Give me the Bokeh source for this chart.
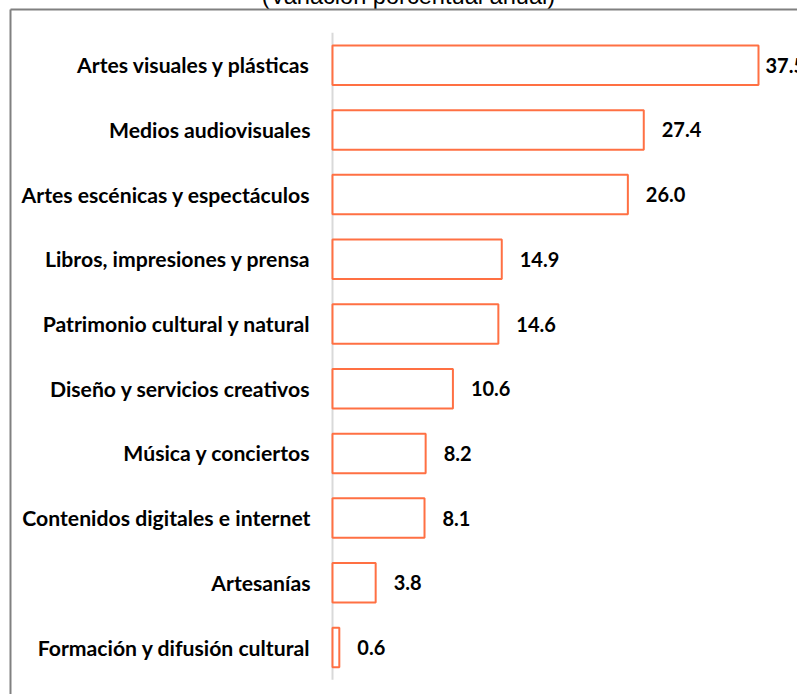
from bokeh.plotting import figure
from bokeh.models import ColumnDataSource, Range1d
from bokeh.core.properties import value
from bokeh.embed import file_html
from bokeh.resources import INLINE
import math

# ---- data ----
categories = [
    "Artes visuales y plásticas",
    "Medios audiovisuales",
    "Artes escénicas y espectáculos",
    "Libros, impresiones y prensa",
    "Patrimonio cultural y natural",
    "Diseño y servicios creativos",
    "Música y conciertos",
    "Contenidos digitales e internet",
    "Artesanías",
    "Formación y difusión cultural",
]
values = [37.5, 27.4, 26.0, 14.9, 14.6, 10.6, 8.2, 8.1, 3.8, 0.6]
title_text = "(Variación porcentual anual)"

# ---- layout (pixels) ----
W, H = 789, 708
PX_PER_UNIT = 11.36
ZERO_PX = 324.0
BAND_PX = 64.7
FIRST_CENTER_PX = 78.7

def dx(px):
    return (px - ZERO_PX) / PX_PER_UNIT

def dy(px):
    return (px - FIRST_CENTER_PX) / BAND_PX

n = len(categories)
idx = list(range(n))
vmax = max(values)
src = ColumnDataSource(dict(
    y=idx,
    v=values,
    cat=categories,
    lbl=[f"{v:.1f}" for v in values],
    off=[7 if v == vmax else 18 for v in values],
))

p = figure(width=W, height=H, output_backend="svg", toolbar_location=None,
           x_axis_type=None, y_axis_type=None,
           x_range=Range1d(dx(0), dx(W)), y_range=Range1d(dy(H), dy(0)),
           min_border=0, outline_line_color=None, background_fill_color="white",
           border_fill_color="white")
p.grid.visible = False
p.styles = {"margin-top": "-14px", "margin-left": "8px"}

# title (cut off at top)
p.text(x=[dx(400)], y=[dy(9.5)], text=[title_text], text_align="center",
       text_baseline="alphabetic", text_font=value("Liberation Sans"),
       text_font_size="23.6px", text_color="#000000")

# outer frame (left and top edges)
p.ray(x=[dx(2), dx(2)], y=[dy(23), dy(23)], length=0, angle=[0, -math.pi / 2],
      line_color="#808080", line_width=2)

# axis line
p.segment(x0=[0], y0=[-0.5], x1=[0], y1=[n - 0.5], line_color="#d9d9d9", line_width=2)

# bars
p.hbar(y="y", left=0, right="v", height=0.61, source=src,
       fill_color="white", line_color="#FF7043", line_width=2)

# category labels
p.text(x=0, y="y", text="cat", source=src, x_offset=-22, text_align="right",
       text_baseline="middle", text_font=value("Lato"), text_font_style="bold",
       text_font_size="21.2px", text_color="#000000")

# value labels
p.text(x="v", y="y", text="lbl", source=src, x_offset="off", text_align="left",
       text_baseline="middle", text_font=value("Lato"), text_font_style="bold",
       text_font_size="20px", text_color="#000000")

open("out.html", "w").write(file_html(p, INLINE))
